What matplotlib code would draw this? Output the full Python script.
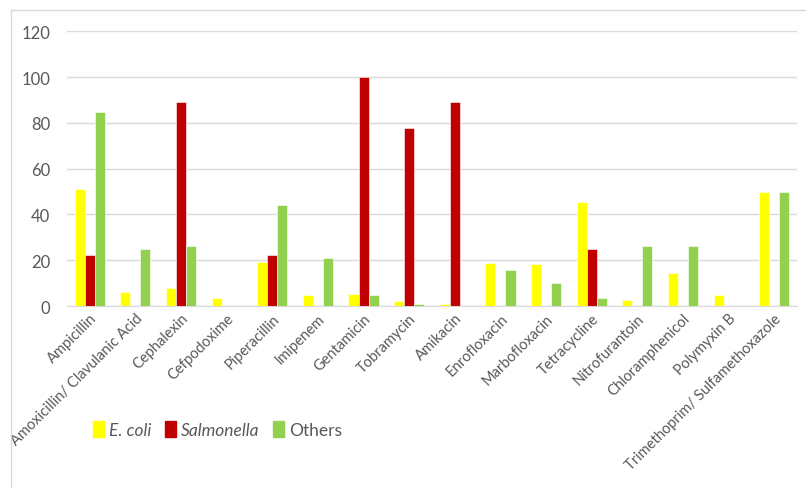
import numpy as np
from matplotlib import pyplot as plt
from matplotlib.lines import Line2D
from matplotlib.patches import Patch

drugs = ['Ampicillin', 'Amoxicillin/ Clavulanic Acid', 'Cephalexin', 'Cefpodoxime',
         'Piperacillin', 'Imipenem', 'Gentamicin', 'Tobramycin', 'Amikacin',
         'Enrofloxacin', 'Marbofloxacin', 'Tetracycline', 'Nitrofurantoin',
         'Chloramphenicol', 'Polymyxin B', 'Trimethoprim/ Sulfamethoxazole']
ecoli = [51.2, 6.0, 7.7, 3.6, 19.3, 4.9, 5.3, 2.3, 0.9, 18.8, 18.4, 45.4, 2.7, 14.5, 4.9, 50.0]
salmonella = [22.2, 0, 88.9, 0, 22.2, 0, 100, 77.8, 88.9, 0, 0, 25.0, 0, 0, 0, 0]
others = [84.8, 25.0, 26.1, 0, 44.1, 20.8, 5.0, 0.9, 0, 15.6, 10.3, 3.5, 26.1, 26.1, 0, 50.0]

colors = ['#FFFF00', '#C00000', '#92D050']
grey = '#595959'

plt.rcParams['font.family'] = ['Lato', 'DejaVu Sans']
fig = plt.figure(figsize=(8.06, 4.89), dpi=100)
ax = fig.add_axes([0.083, 0.372, 0.906, 0.562])

x = np.arange(len(drugs))
w = 0.22
for i, (vals, c) in enumerate(zip([ecoli, salmonella, others], colors)):
    ax.bar(x + (i - 1) * w, vals, w, color=c, edgecolor='white', linewidth=0.4, zorder=3)

ax.set_xlim(-0.5, len(drugs) - 0.5)
ax.set_ylim(0, 120)
ax.set_yticks(range(0, 121, 20))
ax.yaxis.grid(True, color='#d9d9d9', linewidth=1, zorder=0)
for s in ['top', 'right', 'left']:
    ax.spines[s].set_visible(False)
ax.spines['bottom'].set_color('#d9d9d9')
ax.tick_params(axis='both', length=0, colors=grey, labelsize=10.5)
ax.tick_params(axis='y', labelsize=12, pad=12)
ax.set_xticks(x)
ax.set_xticklabels(drugs, rotation=45, ha='right', rotation_mode='anchor')

handles = [Patch(color=c) for c in colors]
leg = fig.legend(handles, ['E. coli', 'Salmonella', 'Others'], loc='center',
                 bbox_to_anchor=(0.27, 0.12), ncol=3, frameon=False, fontsize=12.5,
                 handlelength=0.6, handleheight=1.0, handletextpad=0.3, columnspacing=0.8)
for t, it in zip(leg.get_texts(), ['italic', 'italic', 'normal']):
    t.set_color(grey)
    t.set_style(it)

# outer chart frame
fig.add_artist(Line2D([11 / 806, 1], [1 - 11 / 489] * 2, color='#d9d9d9', lw=1))
fig.add_artist(Line2D([11 / 806] * 2, [0, 1 - 11 / 489], color='#d9d9d9', lw=1))

fig.savefig('out.png', dpi=100)
